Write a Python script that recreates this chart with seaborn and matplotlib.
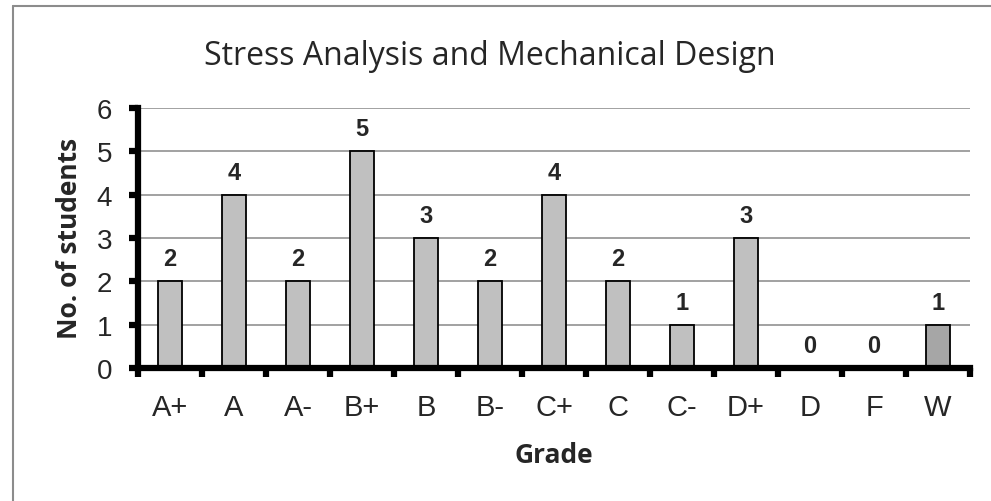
import numpy as np
import pandas as pd
import seaborn as sns
import matplotlib.pyplot as plt
from matplotlib.lines import Line2D

# Chart data
grades = ["A+", "A", "A-", "B+", "B", "B-", "C+", "C", "C-", "D+", "D", "F", "W"]
students = [2, 4, 2, 5, 3, 2, 4, 2, 1, 3, 0, 0, 1]
bar_colors = ["#c0c0c0"] * 12 + ["#a6a6a6"]

df = pd.DataFrame({"Grade": grades, "Students": students})

sns.set_style("white")
plt.rcParams['font.family'] = ['Liberation Sans', 'DejaVu Sans']
title_font = ["Open Sans", "DejaVu Sans"]

fig = plt.figure(figsize=(9.91, 5.02), dpi=100)
# axes box in pixels: x 138..970, y 109..369
ax = fig.add_axes([138 / 991, 1 - 369 / 502, (970 - 138) / 991, (369 - 109) / 502])

sns.barplot(data=df, x="Grade", y="Students", hue="Grade", palette=bar_colors,
            legend=False, width=0.39, edgecolor="black", linewidth=1.3,
            saturation=1, ax=ax, zorder=2)

for cont in ax.containers:
    ax.bar_label(cont, padding=8, fontsize=17, fontweight="bold")

ax.set_ylim(0, 6)
ax.set_xlim(-0.5, len(grades) - 0.5)
ax.set_yticks(range(0, 7))
ax.yaxis.grid(True, color="#888888", linewidth=1.1, zorder=0)
ax.set_axisbelow(True)

# spines like the spreadsheet chart
for s in ["top", "right"]:
    ax.spines[s].set_visible(False)
for s in ["left", "bottom"]:
    ax.spines[s].set_linewidth(4.5)
    ax.spines[s].set_color("black")
    ax.spines[s].set_zorder(5)

ax.tick_params(axis="y", left=True, direction="out", length=6.5, width=4.5,
               color="black", labelsize=20, pad=12)
ax.tick_params(axis="x", which="major", bottom=True, length=0, labelsize=21, pad=18)
ax.set_xticks(np.arange(-0.5, len(grades)), minor=True)
ax.tick_params(axis="x", which="minor", bottom=True, direction="out", length=6.5,
               width=4.5, color="black")

ax.set_xlabel("Grade", fontsize=19, fontweight="bold", family=title_font)
ax.xaxis.set_label_coords(0.5, -(463 - 369) / 260)
ax.xaxis.label.set_va("baseline")
ax.set_ylabel("No. of students", fontsize=19, fontweight="bold", family=title_font)
ax.yaxis.set_label_coords((77 - 138) / 832, (369 - 238) / 260)
ax.yaxis.label.set_va("baseline")

fig.text(490 / 991, 1 - 65 / 502, "Stress Analysis and Mechanical Design", ha="center",
         va="baseline", fontsize=23, family=title_font)

# outer chart border (partly cropped in the original)
fig.add_artist(Line2D([13 / 991, 1], [1 - 7 / 502, 1 - 7 / 502], color="#8c8c8c",
                      linewidth=1.5, transform=fig.transFigure))
fig.add_artist(Line2D([13 / 991, 13 / 991], [0, 1 - 7 / 502], color="#8c8c8c",
                      linewidth=1.5, transform=fig.transFigure))

fig.savefig("out.png", dpi=100)
